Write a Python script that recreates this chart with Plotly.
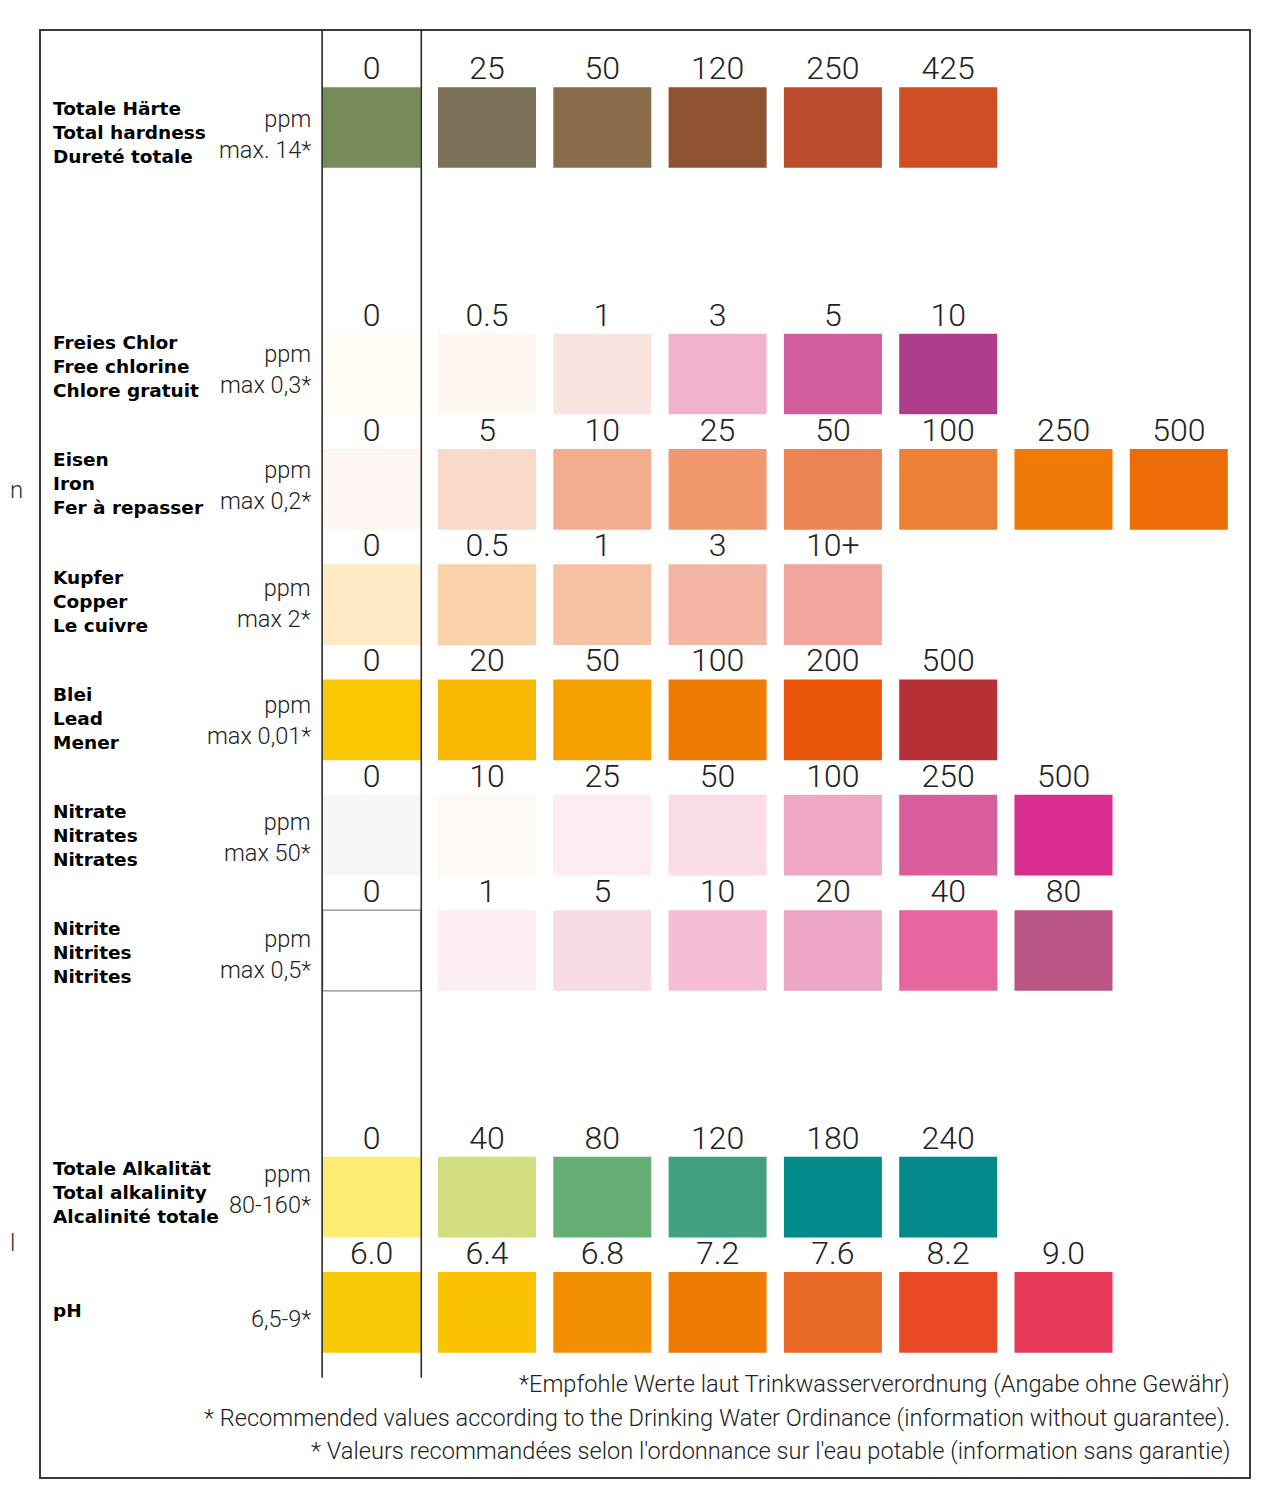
import plotly.graph_objects as go

# ---- data -------------------------------------------------------------
row_names = [
    ["Totale Härte", "Total hardness", "Dureté totale"],
    ["Freies Chlor", "Free chlorine", "Chlore gratuit"],
    ["Eisen", "Iron", "Fer à repasser"],
    ["Kupfer", "Copper", "Le cuivre"],
    ["Blei", "Lead", "Mener"],
    ["Nitrate", "Nitrates", "Nitrates"],
    ["Nitrite", "Nitrites", "Nitrites"],
    ["Totale Alkalität", "Total alkalinity", "Alcalinité totale"],
    ["pH"],
]
row_units = [
    ["ppm", "max. 14*"],
    ["ppm", "max 0,3*"],
    ["ppm", "max 0,2*"],
    ["ppm", "max 2*"],
    ["ppm", "max 0,01*"],
    ["ppm", "max 50*"],
    ["ppm", "max 0,5*"],
    ["ppm", "80-160*"],
    ["6,5-9*"],
]
hardness_vals = ["0", "25", "50", "120", "250", "425"]
hardness_cols = ["#778b57", "#7a7158", "#8a6b4a", "#8f5230", "#b84c2c", "#d04e24"]
chlorine_vals = ["0", "0.5", "1", "3", "5", "10"]
chlorine_cols = ["#fffdf5", "#fef6f0", "#fae4df", "#f1b2cb", "#d15c9e", "#ad3c8a"]
iron_vals = ["0", "5", "10", "25", "50", "100", "250", "500"]
iron_cols = ["#fef6f3", "#f9d9ca", "#f3ae8e", "#f1986f", "#ec8456", "#ee8035", "#f07a05", "#ec6c07"]
copper_vals = ["0", "0.5", "1", "3", "10+"]
copper_cols = ["#feeac4", "#fad3ab", "#f7c1a4", "#f4b6a4", "#f2a59c"]
lead_vals = ["0", "20", "50", "100", "200", "500"]
lead_cols = ["#fac700", "#f9b800", "#f4a100", "#ef7a03", "#e9560a", "#b73036"]
nitrate_vals = ["0", "10", "25", "50", "100", "250", "500"]
nitrate_cols = ["#f6f6f6", "#fef8f4", "#fdedf1", "#f9dce7", "#f1a8c5", "#da5e9e", "#d62d8e"]
nitrite_vals = ["0", "1", "5", "10", "20", "40", "80"]
nitrite_cols = ["#ffffff", "#fdeef3", "#f9dbe6", "#f5bdd6", "#eea6c6", "#e866a0", "#b85585"]
alkalinity_vals = ["0", "40", "80", "120", "180", "240"]
alkalinity_cols = ["#fdec72", "#d1dd7f", "#66af74", "#42a083", "#018b8a", "#028a8a"]
ph_vals = ["6.0", "6.4", "6.8", "7.2", "7.6", "8.2", "9.0"]
ph_cols = ["#f9cb07", "#f9c203", "#f18e04", "#ee7a04", "#e96a25", "#e74a24", "#e6395a"]

footnotes = [
    "*Empfohle Werte laut Trinkwasserverordnung (Angabe ohne Gewähr)",
    "* Recommended values according to the Drinking Water Ordinance (information without guarantee).",
    "* Valeurs recommandées selon l'ordonnance sur l'eau potable (information sans garantie)",
]

row_vals = [hardness_vals, chlorine_vals, iron_vals, copper_vals, lead_vals,
            nitrate_vals, nitrite_vals, alkalinity_vals, ph_vals]
row_cols = [hardness_cols, chlorine_cols, iron_cols, copper_cols, lead_cols,
            nitrate_cols, nitrite_cols, alkalinity_cols, ph_cols]

# ---- layout constants -------------------------------------------------
W, H = 1271, 1500
OFF = 8               # page body margin the browser adds around the plot
UNIT = 115.3          # px per column / row step
X0_PX = 371.7 - OFF   # pixel x of column 0 centre
Y0_PX = 127.5 - OFF   # pixel y of first row centre
BIG_GAP = 2.138       # step before rows that start a new block
SW_W, SW_H = 0.85, 0.70
# small per-row nudges (px) of the left-hand labels, as in the original
LABEL_DY = [4.5, -8, -5.5, -3.5, -1.5, 0.5, 2, -4.5, -1.5]
UNIT_DY = [6.5, -5, -3.5, -1.5, 0.5, 2.5, 4, -8, 6.5]

row_pos = []
pos = 0.0
for i in range(len(row_vals)):
    if i > 0:
        pos += BIG_GAP if i in (1, 7) else 1.0
    row_pos.append(pos)


def px(v):
    return (v - OFF) / W


def py(v):
    return 1 - (v - OFF) / H


FONT = "Roboto"
LABEL_FONT = "DejaVu Sans"
fig = go.Figure()

for vals, cols, yc in zip(row_vals, row_cols, row_pos):
    xs = list(range(len(vals)))
    white = [c == "#ffffff" for c in cols]
    fig.add_trace(go.Bar(
        x=xs, y=[SW_H] * len(xs), base=[yc - SW_H / 2] * len(xs),
        width=SW_W, marker_color=cols,
        marker_line_color=["#8a8a8a" if w else c for w, c in zip(white, cols)],
        marker_line_width=[1.2 if w else 0 for w in white],
        hoverinfo="skip", showlegend=False))
    fig.add_trace(go.Scatter(
        x=xs, y=[yc - 0.49] * len(xs), mode="text", text=vals,
        textfont=dict(family=FONT, size=32, color="#222222", weight=300),
        hoverinfo="skip", showlegend=False))

# row labels and units
for names, units, yc, ldy, udy in zip(row_names, row_units, row_pos, LABEL_DY, UNIT_DY):
    fig.add_annotation(
        x=px(51), xref="paper", y=yc + ldy / UNIT, yref="y",
        text="<br>".join(names), showarrow=False, xanchor="left", yanchor="middle",
        align="left", font=dict(family=LABEL_FONT, size=18.5, color="#000000", weight="bold"))
    fig.add_annotation(
        x=px(313), xref="paper", y=yc + udy / UNIT, yref="y",
        text="<br>".join(units), showarrow=False, xanchor="right", yanchor="middle",
        align="right", font=dict(family=FONT, size=23.5, color="#222222", weight=300))

# footnotes
for k, s in enumerate(footnotes):
    fig.add_annotation(
        x=px(1232), xref="paper", y=py(1384 + 33.5 * k), yref="paper",
        text=s, showarrow=False, xanchor="right", yanchor="middle",
        font=dict(family=FONT, size=23.6, color="#222222", weight=300))

# stray fragments at the left edge
fig.add_annotation(x=0, xref="paper", y=py(490), yref="paper", text="n",
                   showarrow=False, xanchor="left", yanchor="middle",
                   font=dict(family=FONT, size=24, color="#333333", weight=300))
fig.add_annotation(x=0, xref="paper", y=py(1243), yref="paper", text="l",
                   showarrow=False, xanchor="left", yanchor="middle",
                   font=dict(family=FONT, size=24, color="#333333", weight=300))

# frame and the two column rules
frame_top = (30 - OFF - Y0_PX) / UNIT
fig.add_shape(type="rect", xref="paper", yref="paper",
              x0=px(40), x1=px(1250), y0=py(30), y1=py(1478),
              line=dict(color="#3a3a3a", width=2))
for xv in (-0.43, 0.43):
    fig.add_shape(type="line", xref="x", yref="y", x0=xv, x1=xv,
                  y0=frame_top, y1=row_pos[-1] + 0.567,
                  line=dict(color="#2a2a2a", width=1.6))

fig.update_layout(
    width=W, height=H, margin=dict(l=0, r=0, t=0, b=0),
    paper_bgcolor="white", plot_bgcolor="white", barmode="overlay",
    xaxis=dict(range=[-X0_PX / UNIT, (W - X0_PX) / UNIT], visible=False, fixedrange=True),
    yaxis=dict(range=[(H - Y0_PX) / UNIT, -Y0_PX / UNIT], visible=False, fixedrange=True),
)

fig.write_html("out.html")
